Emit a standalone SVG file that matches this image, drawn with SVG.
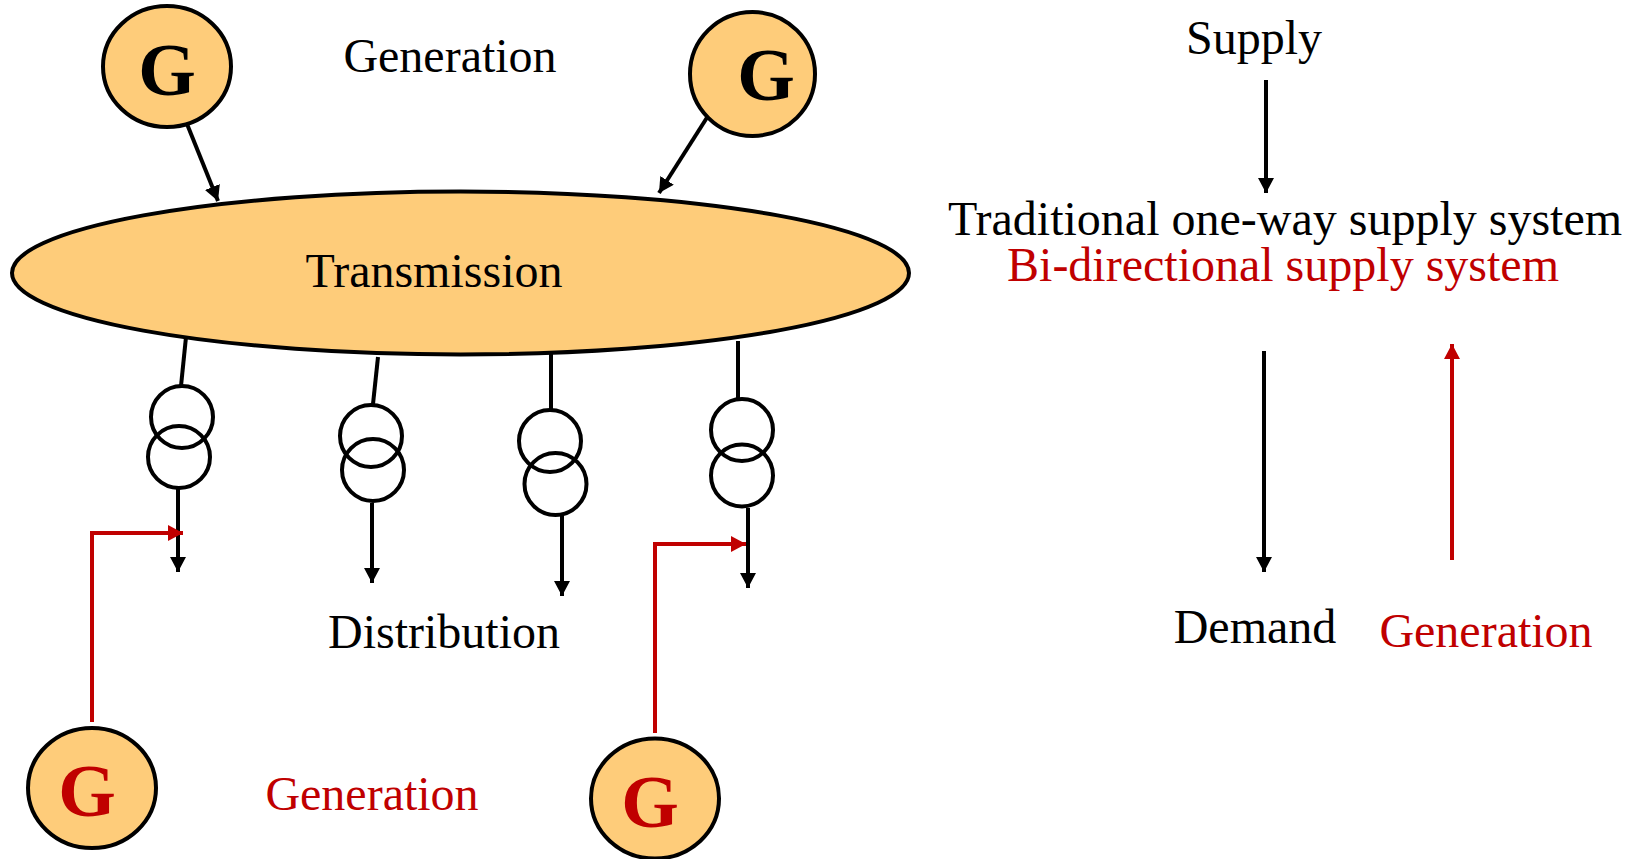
<svg xmlns="http://www.w3.org/2000/svg" width="1638" height="859" viewBox="0 0 1638 859">
<style>
text{font-family:"Liberation Serif","Times New Roman",serif;font-size:48px;fill:#000}
.r{fill:#c00000}
.gl{font-size:74px;font-weight:bold}
.n{fill:#fecc7a;stroke:#000;stroke-width:4}
.t{fill:none;stroke:#000;stroke-width:4}
.k{stroke:#000;stroke-width:4;fill:none}
.e{stroke:#c00000;stroke-width:4;fill:none}
</style>
<defs>
<marker id="ak" markerUnits="userSpaceOnUse" markerWidth="16" markerHeight="18" refX="15" refY="8" orient="auto"><path d="M0 0L15 8L0 16z" fill="#000"/></marker>
<marker id="ar" markerUnits="userSpaceOnUse" markerWidth="16" markerHeight="18" refX="15" refY="8" orient="auto"><path d="M0 0L15 8L0 16z" fill="#c00000"/></marker>
</defs>
<rect width="1638" height="859" fill="#fff"/>
<g id="connectors">
<path class="k" d="M187 124L218 201" marker-end="url(#ak)"/>
<path class="k" d="M708 116L659 193" marker-end="url(#ak)"/>
<path class="k" d="M186 337L181 386"/>
<path class="k" d="M378 357L373 404"/>
<path class="k" d="M551 353V410"/>
<path class="k" d="M738 341V399"/>
<path class="k" d="M178 488V572" marker-end="url(#ak)"/>
<path class="k" d="M372 503V583" marker-end="url(#ak)"/>
<path class="k" d="M562 515V596" marker-end="url(#ak)"/>
<path class="k" d="M748 508V588" marker-end="url(#ak)"/>
<path class="e" d="M92 722V533H183" marker-end="url(#ar)"/>
<path class="e" d="M655 733V544H746" marker-end="url(#ar)"/>
<path class="k" d="M1266 80V193" marker-end="url(#ak)"/>
<path class="k" d="M1264 351V572" marker-end="url(#ak)"/>
<path class="e" d="M1452 560V344" marker-end="url(#ar)"/>
</g>
<g id="node-g1"><ellipse class="n" cx="167" cy="66.5" rx="64" ry="60.5"/><text class="gl" x="167" y="95" text-anchor="middle">G</text></g>
<g id="node-g2"><ellipse class="n" cx="752.500" cy="74" rx="62.500" ry="62"/><text class="gl" x="766" y="100" text-anchor="middle">G</text></g>
<g id="node-g3"><ellipse class="n" cx="92" cy="788" rx="64" ry="60"/><text class="gl r" x="87" y="816" text-anchor="middle">G</text></g>
<g id="node-g4"><ellipse class="n" cx="655" cy="798.500" rx="64" ry="60"/><text class="gl r" x="650" y="827" text-anchor="middle">G</text></g>
<g id="node-transmission"><ellipse class="n" cx="460.500" cy="273" rx="448.500" ry="81.500"/><text x="434" y="287" text-anchor="middle">Transmission</text></g>
<g id="node-t1"><circle class="t" cx="182" cy="417" r="31"/><circle class="t" cx="179" cy="457" r="31"/></g>
<g id="node-t2"><circle class="t" cx="371" cy="436" r="31"/><circle class="t" cx="373" cy="470" r="31"/></g>
<g id="node-t3"><circle class="t" cx="550" cy="441" r="31"/><circle class="t" cx="555.500" cy="484" r="31"/></g>
<g id="node-t4"><circle class="t" cx="742" cy="430" r="31"/><circle class="t" cx="742" cy="475.500" r="31"/></g>
<text x="450" y="72" text-anchor="middle">Generation</text>
<text x="444" y="648" text-anchor="middle">Distribution</text>
<text class="r" x="372" y="810" text-anchor="middle">Generation</text>
<text x="1254" y="54" text-anchor="middle">Supply</text>
<text x="1285" y="235" text-anchor="middle">Traditional one-way supply system</text>
<text class="r" x="1283" y="281" text-anchor="middle">Bi-directional supply system</text>
<text x="1255" y="643" text-anchor="middle">Demand</text>
<text class="r" x="1486" y="647" text-anchor="middle">Generation</text>
</svg>
